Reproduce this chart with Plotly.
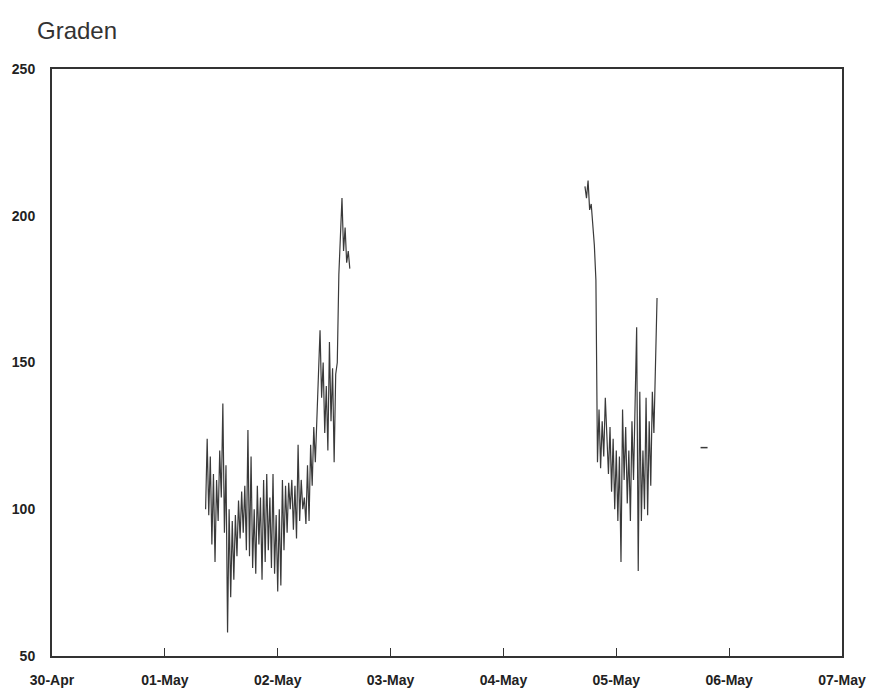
import plotly.graph_objects as go
import pandas as pd

# Segment 1: 20-minute readings starting 01-May 08:40
seg1_start = "2000-05-01 08:40"
seg1_values = [100, 124, 98, 118, 88, 112, 82, 110, 96, 120, 104, 136, 92, 115, 58, 100,
               70, 96, 76, 98, 84, 103, 90, 106, 92, 108, 86, 127, 84, 118, 80, 100,
               78, 108, 88, 104, 76, 110, 82, 112, 86, 104, 80, 112, 78, 98, 72, 100,
               74, 110, 86, 108, 92, 109, 100, 110, 93, 108, 90, 122, 96, 110, 100, 104,
               95, 115, 96, 122, 108, 128, 116, 135, 146, 161, 138, 150, 126, 142, 120, 157,
               130, 148, 116, 146, 150, 180, 196, 206, 188, 196, 184, 188, 182]

# Segment 2: 20-minute readings starting 04-May 17:20
seg2_start = "2000-05-04 17:20"
seg2_values = [210, 206, 212, 202, 204, 196, 190, 178, 116, 134, 114, 130, 118, 138, 126, 112,
               128, 106, 124, 100, 120, 96, 118, 82, 134, 110, 128, 102, 120, 96, 130, 110,
               136, 162, 79, 140, 96, 120, 100, 138, 98, 130, 108, 140, 126, 150, 172]

# Isolated reading
lone_time = ["2000-05-05 18:40"]
lone_value = [121]

x_range = ["2000-04-30", "2000-05-07"]
y_range = [50, 250]
y_ticks = [50, 100, 150, 200, 250]

t1 = pd.date_range(seg1_start, periods=len(seg1_values), freq="20min")
t2 = pd.date_range(seg2_start, periods=len(seg2_values), freq="20min")

line_color = "#3a3a3a"

fig = go.Figure()
fig.add_trace(go.Scatter(x=t1, y=seg1_values, mode="lines",
                         line=dict(color=line_color, width=1.2), showlegend=False))
fig.add_trace(go.Scatter(x=t2, y=seg2_values, mode="lines",
                         line=dict(color=line_color, width=1.2), showlegend=False))
fig.add_trace(go.Scatter(x=pd.to_datetime(lone_time), y=lone_value, mode="markers",
                         marker=dict(symbol="line-ew", size=5, line=dict(color=line_color, width=1.5)),
                         showlegend=False))

fig.update_layout(
    width=868, height=683,
    margin=dict(l=44, r=34, t=61, b=35, autoexpand=False),
    paper_bgcolor="white", plot_bgcolor="white",
    font=dict(family="Liberation Sans, Arial, sans-serif", color="#222"),
    annotations=[dict(text="Graden", xref="paper", yref="paper", x=-0.0215, y=1.0,
                      yshift=39, xanchor="left", yanchor="middle", showarrow=False,
                      font=dict(size=24, color="#333"))],
)
fig.update_xaxes(range=x_range, type="date", dtick=86400000, tick0="2000-04-30",
                 tickformat="%d-%b", ticks="inside", ticklen=8, tickcolor="#333",
                 showline=True, linecolor="#333", linewidth=2, mirror=True,
                 showgrid=False, zeroline=False, automargin=False, ticklabelstandoff=10,
                 tickfont=dict(size=14, weight="bold", color="#222"))
fig.update_yaxes(range=y_range, tickvals=y_ticks, ticks="", ticklen=0,
                 showline=True, linecolor="#333", linewidth=2, mirror=True,
                 showgrid=False, zeroline=False, automargin=False, ticklabelstandoff=12,
                 tickfont=dict(size=14, weight="bold", color="#222"))

fig.write_html("out.html")
